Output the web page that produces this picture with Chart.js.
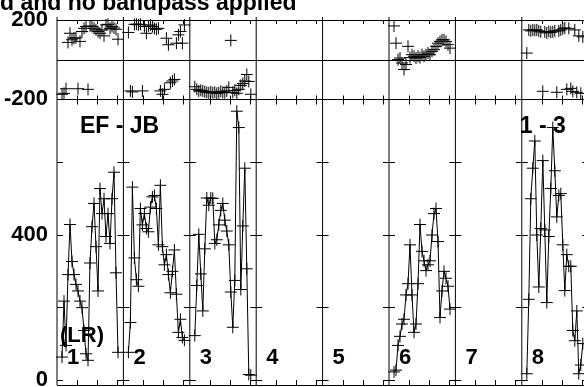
<!DOCTYPE html>
<html>
<head>
<meta charset="utf-8">
<script src="https://cdn.jsdelivr.net/npm/chart.js@4.4.1/dist/chart.umd.min.js"></script>
<style>
  html, body { margin: 0; padding: 0; overflow: hidden; background: #fff; }
  #wrap { width: 600px; height: 392px; }
</style>
</head>
<body>
<div id="wrap"><canvas id="possm" width="600" height="392"></canvas></div>
<script>
// IF panels along the x axis
const panelLabels = ['1', '2', '3', '4', '5', '6', '7', '8'];
const channelTicks = [10, 20, 30];
const ampTicks = [0, 200, 400, 600];
const ampLabels = [0, 400];
const phaseLabels = [-200, 200];

const titleText = 'd and no bandpass applied';
const baselineText = 'EF - JB';
const polText = '(LR)';
const timeText = '1 - 3';

// amplitude per channel, one array per IF (4, 5 and 7 are empty)
const amp1 = [63, 217, 95, 290, 428, 326, 290, 263, 245, 217, 199, 136, 72, 54, 322, 422, 486, 367, 245, 527, 458, 499, 395, 458, 376, 499, 572, 295, 76];
const amp2 = [76, 158, 531, 336, 276, 258, 472, 427, 458, 417, 408, 476, 504, 508, 472, 372, 536, 367, 317, 345, 290, 240, 299, 358, 236, 131, 167, 117, 109];
const amp3 = [122, 260, 401, 292, 190, 361, 501, 481, 501, 500, 376, 386, 427, 467, 486, 440, 410, 372, 242, 145, 274, 740, 695, 249, 424, 583, 306, 15, 13];
const amp6 = [22, 27, 95, 120, 154, 167, 234, 265, 372, 234, 131, 154, 265, 428, 354, 328, 301, 317, 328, 399, 458, 472, 381, 172, 245, 299, 280, 258, 195];
const amp8 = [17, 222, 499, 583, 658, 399, 256, 417, 604, 413, 213, 395, 527, 695, 576, 449, 508, 513, 372, 246, 345, 313, 313, 136, 108, 190, 17, 41, 100];

// phase per channel (degrees)
const phase1 = [-175, -170, -147, 87, 133, 100, 108, 110, -147, 92, 142, 158, 167, -150, 170, 167, 158, 150, 142, 133, 150, 120, 175, 178, 158, 167, 160, 153, 103];
const phase2 = [137, -158, -163, 178, 179, 176, 178, -158, 167, 133, 170, 175, 167, 158, 153, 158, -158, -175, -150, 108, 75, -117, -108, -100, 83, 125, 142, 83, 175];
const phase3 = [-137, -150, -158, -155, -158, -162, -165, -167, -163, -167, -165, -170, -167, -160, -165, -167, -158, -140, 97, -165, -155, -170, -150, -130, -120, -108, -75, -110, -175];
const phase6 = [170, 83, 0, 8, -17, -50, -25, 67, 10, 25, 17, 8, 17, 10, 25, 17, 25, 33, 25, 42, 50, 67, 83, 92, 100, 100, 92, 75, 58];
const phase8 = [33, 150, 145, 150, 148, 150, 145, 140, -160, 140, 135, 142, 138, 140, 145, -165, 145, 150, 155, 160, -150, 158, -145, -160, 150, -165, 120, -170, 115];

const ampPanels = [[0, amp1], [1, amp2], [2, amp3], [5, amp6], [7, amp8]];
const phasePanels = [[0, phase1], [1, phase2], [2, phase3], [5, phase6], [7, phase8]];

const PANEL_W = 33.2;   // channel units per panel
const FIRST_CH = 2.5;

const toPoints = (p, vals) => vals.map((v, i) => ({ x: p * PANEL_W + FIRST_CH + i, y: v }));

const datasets = [];
ampPanels.forEach(([p, vals]) => {
    datasets.push({
        yAxisID: 'amp',
        data: toPoints(p, vals),
        borderColor: '#000',
        borderWidth: 1,
        pointStyle: 'cross',
        pointRadius: 6,
        pointBorderColor: '#000',
        pointBorderWidth: 1,
        tension: 0,
        clip: false
    });
});
phasePanels.forEach(([p, vals]) => {
    datasets.push({
        yAxisID: 'phase',
        data: toPoints(p, vals),
        showLine: false,
        pointStyle: 'cross',
        pointRadius: 6,
        pointBorderColor: '#000',
        pointBorderWidth: 1,
        clip: false
    });
});

const labelFont = { family: '"Liberation Sans", Arial, sans-serif', size: 22, weight: 'bold' };
const crisp = v => Math.round(v) + 0.5;

// y scales: fixed 57px gutter, no extra label padding
const fitLeft = s => {
    s.width = 57;
    s.paddingTop = 0;
    s.paddingBottom = 0;
};

// frame, panel separators, tick crosses and panel texts
const framePlugin = {
    id: 'frame',
    afterDatasetsDraw(chart) {
        const { ctx, chartArea: a } = chart;
        const x = chart.scales.x, amp = chart.scales.amp, phase = chart.scales.phase;
        ctx.save();
        ctx.strokeStyle = '#000';
        ctx.lineWidth = 1;
        ctx.beginPath();
        const hLines = [phase.getPixelForValue(200), phase.getPixelForValue(0), phase.getPixelForValue(-200), a.bottom];
        hLines.forEach(y => { ctx.moveTo(a.left, crisp(y)); ctx.lineTo(a.right, crisp(y)); });
        const mid = crisp(phase.getPixelForValue(-200));
        for (let p = 0; p <= panelLabels.length; p++) {
            const xb = x.getPixelForValue(p * PANEL_W);
            ctx.moveTo(xb, a.top - 3);
            ctx.lineTo(xb, a.bottom);
            ampTicks.forEach(v => {
                const y = crisp(amp.getPixelForValue(v));
                ctx.moveTo(p ? xb - 6 : xb, y);
                ctx.lineTo(xb + 6, y);
            });
            if (p < panelLabels.length) {
                channelTicks.forEach(c => {
                    const xt = crisp(x.getPixelForValue(p * PANEL_W + c));
                    ctx.moveTo(xt, a.top);
                    ctx.lineTo(xt, a.top + 4);
                    ctx.moveTo(xt, mid - 4);
                    ctx.lineTo(xt, mid + 5);
                    ctx.moveTo(xt, a.bottom - 5);
                    ctx.lineTo(xt, a.bottom);
                });
            }
        }
        ctx.stroke();

        ctx.fillStyle = '#000';
        ctx.textAlign = 'left';
        ctx.textBaseline = 'alphabetic';
        ctx.font = 'bold 23px "Liberation Sans", Arial, sans-serif';
        ctx.fillText(titleText, 0, 10);
        ctx.font = 'bold 22px "Liberation Sans", Arial, sans-serif';
        const zeroY = amp.getPixelForValue(0);
        panelLabels.forEach((t, p) => {
            ctx.fillText(t, x.getPixelForValue(p * PANEL_W) + 10, zeroY - 16);
        });
        ctx.fillText(polText, x.getPixelForValue(0) + 3, zeroY - 38);
        ctx.font = 'bold 23px "Liberation Sans", Arial, sans-serif';
        ctx.fillText(baselineText, x.getPixelForValue(0) + 23, mid + 33);
        ctx.fillText(timeText, x.getPixelForValue(7 * PANEL_W) - 2, mid + 33);
        ctx.restore();
    }
};

new Chart(document.getElementById('possm').getContext('2d'), {
    type: 'line',
    data: { datasets: datasets },
    options: {
        responsive: false,
        animation: false,
        events: [],
        layout: { padding: { left: 0, right: 11.8, top: 20, bottom: 3.5 } },
        plugins: { legend: { display: false }, tooltip: { enabled: false } },
        scales: {
            x: { type: 'linear', min: 0, max: panelLabels.length * PANEL_W, display: false },
            amp: {
                type: 'linear', position: 'left', stack: 'v', stackWeight: 288.5,
                min: -14, max: 773,
                grid: { display: false, drawTicks: false },
                border: { display: false },
                afterFit: fitLeft,
                afterBuildTicks: s => { s.ticks = ampLabels.map(v => ({ value: v })); },
                ticks: { padding: 9, color: '#000', font: labelFont, autoSkip: false }
            },
            phase: {
                type: 'linear', position: 'left', stack: 'v', stackWeight: 80,
                min: -200, max: 200,
                grid: { display: false, drawTicks: false },
                border: { display: false },
                afterFit: fitLeft,
                afterBuildTicks: s => { s.ticks = phaseLabels.map(v => ({ value: v })); },
                ticks: { padding: 9, color: '#000', font: labelFont, autoSkip: false }
            }
        }
    },
    plugins: [framePlugin]
});
</script>
</body>
</html>
